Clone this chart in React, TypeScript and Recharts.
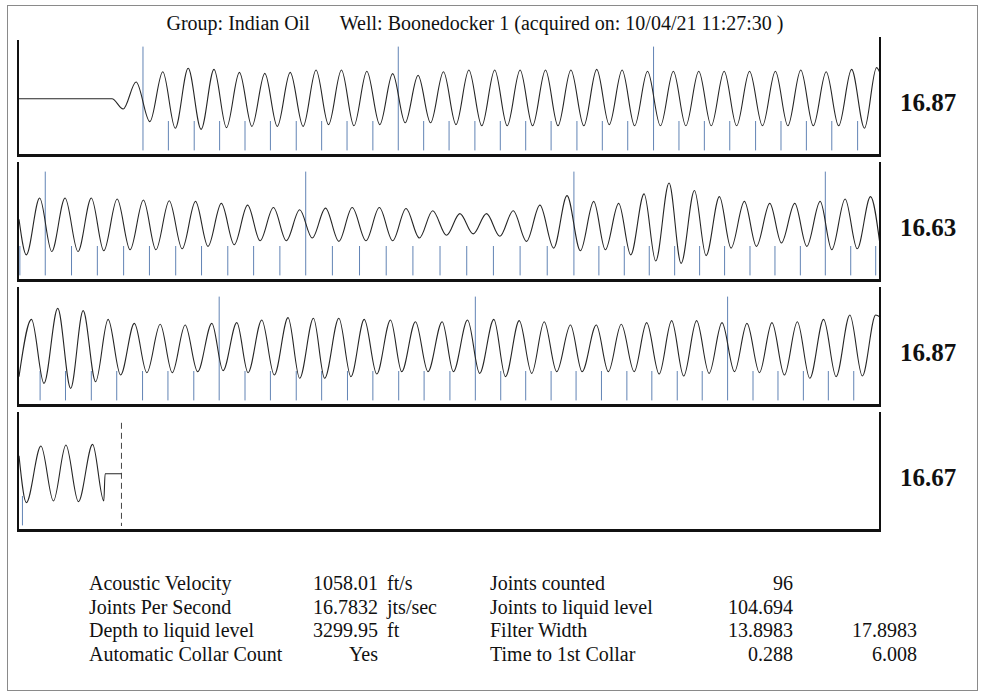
import React from "react";
import { Line, LineChart, ReferenceLine, XAxis, YAxis } from "recharts";

// wave extrema: [time s, amplitude]
const wave1: [number, number][] = [
  [0, -0.03], [0.216, -0.03], [0.242, -0.2], [0.272, 0.25],
  [0.304, -0.41], [0.334, 0.42], [0.363, -0.52], [0.393, 0.478],
  [0.423, -0.54], [0.453, 0.461], [0.482, -0.51], [0.512, 0.411],
  [0.541, -0.49], [0.571, 0.394], [0.6, -0.49], [0.63, 0.411],
  [0.66, -0.49], [0.69, 0.45], [0.719, -0.46], [0.749, 0.45],
  [0.778, -0.48], [0.808, 0.43], [0.838, -0.46], [0.868, 0.39],
  [0.897, -0.43], [0.927, 0.36], [0.956, -0.43], [0.986, 0.42],
  [1.015, -0.46], [1.045, 0.45], [1.075, -0.48], [1.105, 0.45],
  [1.134, -0.48], [1.164, 0.45], [1.193, -0.48], [1.223, 0.45],
  [1.252, -0.48], [1.282, 0.45], [1.312, -0.48], [1.342, 0.46],
  [1.371, -0.46], [1.401, 0.45], [1.43, -0.48], [1.46, 0.43],
  [1.49, -0.48], [1.52, 0.43], [1.549, -0.48], [1.579, 0.43],
  [1.608, -0.48], [1.638, 0.43], [1.667, -0.48], [1.697, 0.43],
  [1.727, -0.48], [1.757, 0.43], [1.786, -0.48], [1.816, 0.45],
  [1.845, -0.48], [1.875, 0.42], [1.904, -0.48], [1.934, 0.46],
  [1.964, -0.52], [1.992, 0.49], [2.0, 0.4],
];

const wave2: [number, number][] = [
  [2.0, 0.045], [2.017, -0.548], [2.048, 0.4], [2.076, -0.492], [2.107, 0.4],
  [2.137, -0.492], [2.168, 0.4], [2.197, -0.48], [2.228, 0.383],
  [2.258, -0.463], [2.289, 0.367], [2.318, -0.463], [2.349, 0.355],
  [2.379, -0.447], [2.41, 0.343], [2.439, -0.407], [2.47, 0.31],
  [2.5, -0.378], [2.531, 0.282], [2.56, -0.312], [2.591, 0.242],
  [2.621, -0.312], [2.652, 0.203], [2.681, -0.267], [2.712, 0.232],
  [2.743, -0.323], [2.774, 0.242], [2.806, -0.312], [2.837, 0.242],
  [2.868, -0.312], [2.899, 0.226], [2.93, -0.267], [2.961, 0.187],
  [2.993, -0.222], [3.024, 0.14], [3.055, -0.198], [3.086, 0.14],
  [3.117, -0.238], [3.148, 0.187], [3.179, -0.323], [3.21, 0.282],
  [3.242, -0.435], [3.273, 0.44], [3.304, -0.48], [3.335, 0.343],
  [3.362, -0.463], [3.393, 0.31], [3.421, -0.548], [3.452, 0.468],
  [3.479, -0.65], [3.51, 0.65], [3.538, -0.69], [3.569, 0.525],
  [3.596, -0.56], [3.627, 0.423], [3.654, -0.435], [3.685, 0.343],
  [3.713, -0.407], [3.744, 0.31], [3.771, -0.35], [3.802, 0.31],
  [3.83, -0.407], [3.861, 0.343], [3.888, -0.463], [3.919, 0.383],
  [3.947, -0.447], [3.978, 0.423], [4.0, -0.38],
];

const wave3: [number, number][] = [
  [4.0, -0.494], [4.029, 0.461], [4.058, -0.606], [4.09, 0.644],
  [4.12, -0.689], [4.149, 0.606], [4.178, -0.578], [4.207, 0.461],
  [4.236, -0.467], [4.268, 0.394], [4.297, -0.428], [4.328, 0.378],
  [4.356, -0.428], [4.386, 0.367], [4.415, -0.411], [4.448, 0.394],
  [4.474, -0.394], [4.506, 0.406], [4.532, -0.428], [4.564, 0.45],
  [4.593, -0.467], [4.625, 0.489], [4.652, -0.522], [4.684, 0.478],
  [4.71, -0.522], [4.743, 0.478], [4.771, -0.494], [4.802, 0.461],
  [4.831, -0.45], [4.863, 0.45], [4.889, -0.411], [4.921, 0.422],
  [4.95, -0.411], [4.983, 0.422], [5.009, -0.411], [5.042, 0.45],
  [5.07, -0.439], [5.103, 0.461], [5.13, -0.494], [5.162, 0.439],
  [5.191, -0.439], [5.22, 0.422], [5.249, -0.411], [5.281, 0.367],
  [5.308, -0.411], [5.341, 0.367], [5.369, -0.411], [5.399, 0.378],
  [5.429, -0.411], [5.458, 0.406], [5.487, -0.45], [5.516, 0.439],
  [5.544, -0.483], [5.574, 0.439], [5.603, -0.439], [5.633, 0.406],
  [5.662, -0.411], [5.691, 0.394], [5.72, -0.428], [5.749, 0.406],
  [5.778, -0.467], [5.808, 0.422], [5.837, -0.522], [5.869, 0.461],
  [5.898, -0.494], [5.93, 0.533], [5.959, -0.483], [5.99, 0.533],
  [6.0, 0.5],
];

const wave4: [number, number][] = [
  [6.0, 0.27], [6.017, -0.511], [6.051, 0.433], [6.08, -0.483],
  [6.109, 0.45], [6.138, -0.494], [6.171, 0.461], [6.197, -0.483],
  [6.2, -0.03], [6.238, -0.03],
];

// collar (joint) picks, seconds
const collarTimes = [
  0.347, 0.407, 0.466, 0.525, 0.584, 0.644, 0.703, 0.762, 0.822,
  0.94, 0.999, 1.059, 1.118, 1.177, 1.236, 1.296, 1.355, 1.414,
  1.533, 1.592, 1.651, 1.711, 1.77, 1.829, 1.888, 1.948,
  2.002, 2.122, 2.182, 2.243, 2.303, 2.364, 2.424, 2.485, 2.545, 2.606,
  2.728, 2.791, 2.853, 2.915, 2.978, 3.04, 3.102, 3.164, 3.227,
  3.347, 3.406, 3.464, 3.523, 3.581, 3.639, 3.698, 3.756, 3.815,
  3.932, 3.99, 4.049, 4.108, 4.168, 4.227, 4.287, 4.346, 4.406,
  4.525, 4.584, 4.644, 4.703, 4.763, 4.822, 4.882, 4.941, 5.001,
  5.119, 5.177, 5.236, 5.294, 5.353, 5.412, 5.47, 5.529, 5.587,
  5.705, 5.763, 5.822, 5.88, 5.939, 6.008,
];
const tallCollarTimes = [0.288, 0.881, 1.474, 2.061, 2.666, 3.289, 3.873, 4.465, 5.06, 5.646];
const liquidLevelTime = 6.238;

const panelStarts = [0, 2, 4, 6];
const panelRates = ["16.87", "16.63", "16.87", "16.67"];
const panelWaves = [wave1, wave2, wave3, wave4];

const leftLabels = ["Acoustic Velocity", "Joints Per Second", "Depth to liquid level", "Automatic Collar Count"];
const leftValues = ["1058.01", "16.7832", "3299.95", "Yes"];
const leftUnits = ["ft/s", "jts/sec", "ft", ""];
const rightLabels = ["Joints counted", "Joints to liquid level", "Filter Width", "Time to 1st Collar"];
const rightValues = ["96", "104.694", "13.8983", "0.288"];
const rightExtra = ["", "", "17.8983", "6.008"];

const SERIF = '"Liberation Serif", "Times New Roman", serif';
const BLUE = "#6284b5";
const PANEL_TOPS = [37, 162, 287, 412];
const PANEL_H = 120;

function Panel({ index }: { index: number }) {
  const start = panelStarts[index];
  const end = start + 2;
  const rows = panelWaves[index].map(([t, v]) => ({ t, v }));
  const shorts = collarTimes.filter((t) => t >= start && (index === 3 ? t < end : t <= end));
  const talls = tallCollarTimes.filter((t) => t >= start && t <= end);
  const top = PANEL_TOPS[index];
  return (
    <>
      <div style={{ position: "absolute", left: 19, top, width: 861, height: PANEL_H }}>
        <LineChart width={861} height={PANEL_H} data={rows} margin={{ top: 0, right: 0, bottom: 0, left: 0 }}>
          <XAxis dataKey="t" type="number" domain={[start, end]} hide allowDataOverflow />
          <YAxis type="number" domain={[-1, 1]} hide allowDataOverflow />
          {shorts.map((t) => (
            <ReferenceLine key={"s" + t} segment={[{ x: t, y: -0.4 }, { x: t, y: -0.89 }]} stroke={BLUE} strokeWidth={1} />
          ))}
          {talls.map((t) => (
            <ReferenceLine key={"t" + t} segment={[{ x: t, y: 0.84 }, { x: t, y: -0.89 }]} stroke={BLUE} strokeWidth={1} />
          ))}
          {index === 3 && (
            <ReferenceLine
              segment={[{ x: liquidLevelTime, y: 0.82 }, { x: liquidLevelTime, y: -0.9 }]}
              stroke="#444"
              strokeWidth={1}
              strokeDasharray="6 4"
            />
          )}
          <Line dataKey="v" type="monotone" dot={false} stroke="#262626" strokeWidth={1.1} isAnimationActive={false} />
        </LineChart>
      </div>
      <div style={{ position: "absolute", left: 17, top: top + (index === 0 ? 3 : 0), width: 2, height: PANEL_H - (index === 0 ? 3 : 0), background: "#111" }} />
      <div style={{ position: "absolute", left: 879, top, width: 2, height: PANEL_H, background: "#111" }} />
      <div style={{ position: "absolute", left: 17, top: top + PANEL_H - 3, width: 864, height: 3, background: "#111" }} />
      <div
        style={{
          position: "absolute", left: 880, top: top + 66 - 15, width: 96, height: 30, lineHeight: "30px",
          textAlign: "center", fontFamily: SERIF, fontWeight: "bold", fontSize: 25, color: "#111",
        }}
      >
        {panelRates[index]}
      </div>
    </>
  );
}

const ROW_Y = [583, 607, 630, 654];

export default function App() {
  const txt = { position: "absolute" as const, fontFamily: SERIF, fontSize: 20, color: "#111", lineHeight: "24px", whiteSpace: "nowrap" as const };
  return (
    <div style={{ position: "absolute", left: 0, top: 0, width: 983, height: 696, background: "#fff", overflow: "hidden" }}>
      <div style={{ position: "absolute", left: 7, top: 5, width: 969, height: 684, border: "1px solid #8a8a8a" }} />
      <div style={{ ...txt, left: 0, top: 11, width: 950, textAlign: "center" }}>
        Group: Indian Oil<span style={{ marginLeft: 30 }}>Well: Boonedocker 1 (acquired on: 10/04/21 11:27:30 )</span>
      </div>
      {[0, 1, 2, 3].map((i) => (
        <Panel key={i} index={i} />
      ))}
      {ROW_Y.map((y, i) => (
        <React.Fragment key={i}>
          <div style={{ ...txt, left: 89, top: y - 12 }}>{leftLabels[i]}</div>
          <div style={{ ...txt, left: 278, width: 100, top: y - 12, textAlign: "right" }}>{leftValues[i]}</div>
          <div style={{ ...txt, left: 387, top: y - 12 }}>{leftUnits[i]}</div>
          <div style={{ ...txt, left: 490, top: y - 12 }}>{rightLabels[i]}</div>
          <div style={{ ...txt, left: 693, width: 100, top: y - 12, textAlign: "right" }}>{rightValues[i]}</div>
          <div style={{ ...txt, left: 817, width: 100, top: y - 12, textAlign: "right" }}>{rightExtra[i]}</div>
        </React.Fragment>
      ))}
    </div>
  );
}
